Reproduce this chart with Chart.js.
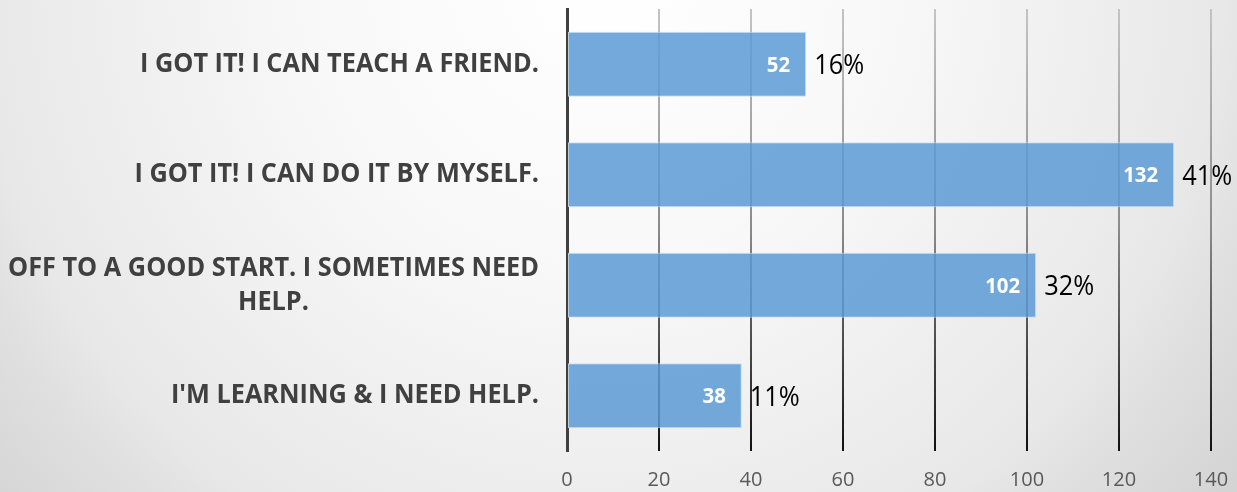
<!DOCTYPE html>
<html>
<head>
<meta charset="utf-8">
<script src="https://cdn.jsdelivr.net/npm/chart.js@4"></script>
<style>
html,body{margin:0;padding:0;width:1237px;height:492px;overflow:hidden;}
#wrap{position:relative;width:1237px;height:492px;}
</style>
</head>
<body>
<div id="wrap"><canvas id="c" width="1237" height="492"></canvas></div>
<script>
const categories = [
  ["I GOT IT! I CAN TEACH A FRIEND."],
  ["I GOT IT! I CAN DO IT BY MYSELF."],
  ["OFF TO A GOOD START. I SOMETIMES NEED", "HELP."],
  ["I'M LEARNING & I NEED HELP."]
];
const counts = [52, 132, 102, 38];
const percents = ["16%", "41%", "32%", "11%"];
const xTicks = [0, 20, 40, 60, 80, 100, 120, 140];

function drawScaled(ctx, text, x, y, font, color, align, sx) {
  ctx.save();
  ctx.font = font;
  ctx.fillStyle = color;
  ctx.textBaseline = 'middle';
  const w = ctx.measureText(text).width * sx;
  let left = x;
  if (align === 'right') left = x - w;
  else if (align === 'center') left = x - w / 2;
  ctx.translate(left, y);
  ctx.scale(sx, 1);
  ctx.textAlign = 'left';
  ctx.fillText(text, 0, 0);
  ctx.restore();
}

const bgPlugin = {
  id: 'bg',
  beforeDraw(chart) {
    const ctx = chart.ctx;
    const g = ctx.createRadialGradient(600, -20, 0, 600, -20, 900);
    g.addColorStop(0, '#ffffff');
    g.addColorStop(0.33, '#f8f8f8');
    g.addColorStop(0.69, '#e8e8e8');
    g.addColorStop(0.76, '#e0e0e0');
    g.addColorStop(0.9, '#d4d4d4');
    g.addColorStop(1, '#cdcdcd');
    ctx.save();
    ctx.fillStyle = g;
    ctx.fillRect(0, 0, chart.width, chart.height);
    ctx.restore();
  }
};

const labelPlugin = {
  id: 'labels',
  afterDatasetsDraw(chart) {
    const ctx = chart.ctx;
    const yScale = chart.scales.y;
    const catFont = 'bold 27px "Open Sans"';
    ctx.save();
    ctx.font = catFont;
    let widest = 0;
    categories.forEach(c => c.forEach(l => { widest = Math.max(widest, ctx.measureText(l).width); }));
    ctx.restore();
    const sx = 531 / widest;
    const rightEdge = 539;
    categories.forEach((lines, i) => {
      const cy = yScale.getPixelForValue(i);
      if (lines.length === 1) {
        drawScaled(ctx, lines[0], rightEdge, cy, catFont, '#404040', 'right', sx);
      } else {
        ctx.save(); ctx.font = catFont;
        const w0 = ctx.measureText(lines[0]).width * sx;
        ctx.restore();
        const center = rightEdge - w0 / 2;
        const step = 34;
        const y0 = cy - step * (lines.length - 1) / 2;
        lines.forEach((l, k) => drawScaled(ctx, l, center, y0 + k * step, catFont, '#404040', 'center', sx));
      }
    });
    const meta = chart.getDatasetMeta(0);
    const valFont = 'bold 22px "Open Sans"';
    const pctFont = '28px "Open Sans"';
    ctx.save();
    ctx.font = valFont;
    const vsx = 35 / ctx.measureText('132').width;
    ctx.font = pctFont;
    const psx = 50 / ctx.measureText('41%').width;
    ctx.restore();
    meta.data.forEach((bar, i) => {
      drawScaled(ctx, String(counts[i]), bar.x - 16, bar.y + 1, valFont, '#ffffff', 'right', vsx);
      drawScaled(ctx, percents[i], bar.x + 8, bar.y + 2, pctFont, '#000000', 'left', psx);
    });
  }
};

new Chart(document.getElementById('c'), {
  type: 'bar',
  data: {
    labels: categories.map(c => c.join(' ')),
    datasets: [{
      data: counts,
      backgroundColor: 'rgba(91,155,213,0.85)',
      borderColor: 'rgba(200,222,242,0.9)',
      borderWidth: 1,
      borderSkipped: false,
      barPercentage: 0.59,
      categoryPercentage: 1
    }]
  },
  options: {
    indexAxis: 'y',
    responsive: false,
    animation: false,
    devicePixelRatio: 1,
    layout: { padding: { left: 0, right: 26, top: 9, bottom: 0 } },
    plugins: { legend: { display: false }, tooltip: { enabled: false } },
    scales: {
      x: {
        min: 0, max: 140,
        afterBuildTicks(scale) { scale.ticks = xTicks.map(v => ({ value: v })); },
        afterFit(scale) { scale.height = 41; scale.paddingRight = 0; scale.paddingLeft = 0; },
        ticks: { color: '#595959', font: { family: 'Open Sans', size: 20 }, padding: 17, maxRotation: 0 },
        grid: {
          drawTicks: false,
          lineWidth: 2,
          color(ctx) {
            const chart = ctx.chart;
            const a = chart.chartArea;
            if (!a) return '#888';
            const g = chart.ctx.createLinearGradient(0, a.top, 0, a.bottom);
            g.addColorStop(0, '#c4c4c4');
            g.addColorStop(0.5, '#8a8a8a');
            g.addColorStop(1, '#111111');
            return g;
          }
        },
        border: { display: false }
      },
      y: {
        afterFit(scale) { scale.width = 567; },
        ticks: { display: false },
        grid: { display: false, drawTicks: false },
        border: { display: true, color: '#404040', width: 3 }
      }
    }
  },
  plugins: [bgPlugin, labelPlugin]
});
</script>
</body>
</html>
